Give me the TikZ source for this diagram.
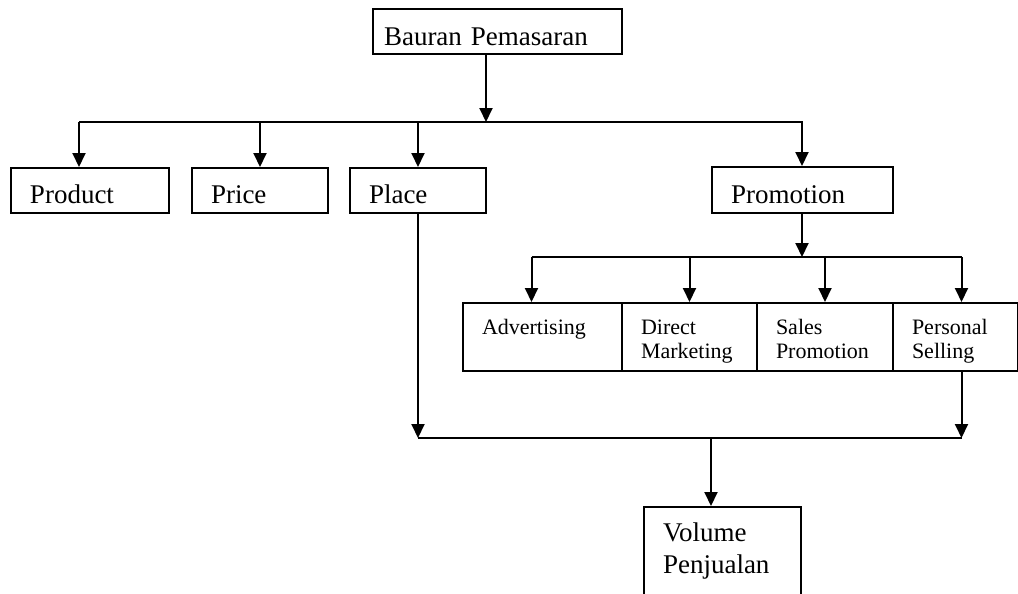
\documentclass[tikz,border=0pt]{standalone}
\usepackage{fontspec}
\setmainfont{Liberation Serif}
\usetikzlibrary{arrows.meta}
\tikzset{
  box/.style={draw=black, line width=2pt, anchor=north west, inner xsep=19pt, inner ysep=0pt,
    align=left, font=\fontsize{27}{32}\selectfont, text height=35pt, text depth=10pt},
  subbox/.style={box, font=\fontsize{22}{24}\selectfont, text height=31pt, text depth=37pt},
  arr/.style={-{Triangle[length=14pt,width=13pt]}, line width=2pt},
  wire/.style={line width=2pt}
}
\begin{document}
\begin{tikzpicture}[x=1pt, y=-1pt]
    \useasboundingbox (0,0) rectangle (1018,594);
    \clip (0,0) rectangle (1018,594);

    \node[box, inner xsep=11pt, text width=227pt, text height=37pt, text depth=8pt] (bauran) at (372,8) {Bauran Pemasaran};

    \node[box, text width=120pt] (product) at (10,167) {Product};
    \node[box, text width=98pt] (price) at (191,167) {Price};
    \node[box, text width=98pt] (place) at (349,167) {Place};
    \node[box, text width=143pt, text height=36pt] (promotion) at (711,166) {Promotion};

    \node[subbox, text width=121pt] (advertising) at (462,302) {Advertising};
    \node[subbox, text width=97pt] (direct) at (621,302) {Direct\\Marketing};
    \node[subbox, text width=98pt] (sales) at (756,302) {Sales\\Promotion};
    \node[subbox, text width=87pt] (personal) at (892,302) {Personal\\Selling};

    \node[box, text width=119pt, text height=34pt, text depth=66pt] (volume) at (643,506) {Volume\\Penjualan};

    \coordinate (mix) at (486,122);
    \coordinate (promo) at (802,257);
    \coordinate (sum) at (711,438);

    \draw[arr] (mix |- bauran.south) -- (mix);
    \draw[wire] ([xshift=-11pt]product.north |- mix) -- (promotion.north |- mix);
    \draw[arr] ([xshift=-11pt]product.north |- mix) -- ([xshift=-11pt]product.north);
    \draw[arr] (price.north |- mix) -- (price.north);
    \draw[arr] (place.north |- mix) -- (place.north);
    \draw[arr] (promo |- mix) -- (promo |- promotion.north);

    \draw[arr] (promo |- promotion.south) -- (promo);
    \draw[wire] ([xshift=-11pt]advertising.north |- promo) -- ([xshift=6pt]personal.north |- promo);
    \draw[arr] ([xshift=-11pt]advertising.north |- promo) -- ([xshift=-11pt]advertising.north);
    \draw[arr] (direct.north |- promo) -- (direct.north);
    \draw[arr] (sales.north |- promo) -- (sales.north);
    \draw[arr] ([xshift=6pt]personal.north |- promo) -- ([xshift=6pt]personal.north);

    \draw[arr] (place.south) -- (place.south |- sum);
    \draw[arr] ([xshift=6pt]personal.south) -- ([xshift=6pt]personal.south |- sum);
    \draw[wire] (place.south |- sum) -- ([xshift=6pt]personal.south |- sum);
    \draw[arr] (sum) -- (sum |- volume.north);
\end{tikzpicture}
\end{document}
